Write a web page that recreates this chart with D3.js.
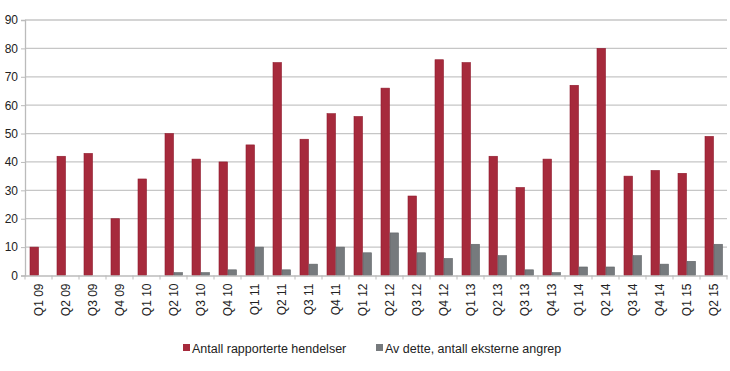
<!DOCTYPE html>
<html>
<head>
<meta charset="utf-8">
<script src="https://cdn.jsdelivr.net/npm/d3@7"></script>
<style>
  body { margin: 0; background: #fff; }
  text { font-family: "Liberation Sans", Arial, sans-serif; fill: #222; }
</style>
</head>
<body>
<div id="chart"></div>
<script>
const quarters = ['Q1 09','Q2 09','Q3 09','Q4 09','Q1 10','Q2 10','Q3 10','Q4 10',
  'Q1 11','Q2 11','Q3 11','Q4 11','Q1 12','Q2 12','Q3 12','Q4 12',
  'Q1 13','Q2 13','Q3 13','Q4 13','Q1 14','Q2 14','Q3 14','Q4 14','Q1 15','Q2 15']
const reported = [10,42,43,20,34,50,41,40,46,75,48,57,56,66,28,76,75,42,31,41,67,80,35,37,36,49]
const external = [0,0,0,0,0,1,1,2,10,2,4,10,8,15,8,6,11,7,2,1,3,3,7,4,5,11]
const seriesNames = ['Antall rapporterte hendelser', 'Av dette, antall eksterne angrep']
const yTicks = [0,10,20,30,40,50,60,70,80,90]

const width = 730, height = 371
const margin = {top: 20, right: 3, bottom: 95, left: 25}

const svg = d3.select('#chart').append('svg')
  .attr('width', width).attr('height', height)

const x = d3.scaleBand()
  .domain(quarters)
  .range([margin.left, width - margin.right])

const y = d3.scaleLinear()
  .domain([0, 90])
  .range([height - margin.bottom - 0.5, margin.top])

// gridlines
svg.append('g').selectAll('line')
  .data(yTicks.slice(1))
  .enter().append('line')
  .attr('x1', margin.left).attr('x2', width - margin.right)
  .attr('y1', d => y(d)).attr('y2', d => y(d))
  .attr('stroke', '#c6c6c6').attr('stroke-width', 1.3)

// y axis
const yAxis = svg.append('g')
  .attr('transform', `translate(${margin.left},0)`)
  .call(d3.axisLeft(y).tickValues(yTicks).tickSize(4).tickPadding(3))
yAxis.select('.domain').attr('stroke', '#bbb').attr('stroke-width', 1.3)
yAxis.selectAll('.tick line').attr('stroke', '#bbb')
yAxis.selectAll('text').style('font-size', '12px').attr('fill', '#222')

// bars
const sub = d3.scaleBand()
  .domain([0, 1])
  .range([0, x.bandwidth()])
  .paddingOuter(0.5)
  .paddingInner(0)

const colors = ['#a62a3c', '#767a7d']
const strokes = ['#8f1a2c', '#5f6366']

;[reported, external].forEach((vals, s) => {
  svg.append('g').selectAll('rect')
    .data(vals)
    .enter().append('rect')
    .attr('x', (d, i) => x(quarters[i]) + sub(s) + 0.5)
    .attr('y', d => y(d))
    .attr('width', sub.bandwidth() - 0.5)
    .attr('height', d => y(0) - y(d))
    .attr('fill', colors[s])
    .attr('stroke', d => d > 0 ? strokes[s] : 'none')
    .attr('stroke-width', 0.6)
})

// x axis
const xAxis = svg.append('g')
  .attr('transform', `translate(0,${y(0)})`)
  .call(d3.axisBottom(x).tickSize(0))
xAxis.select('.domain').attr('stroke', '#bbb').attr('stroke-width', 1.3)
xAxis.selectAll('text')
  .style('font-size', '12px')
  .attr('fill', '#222')
  .attr('text-anchor', 'end')
  .attr('transform', 'rotate(-90)')
  .attr('x', -8)
  .attr('y', 0)
  .attr('dy', '0.35em')

// tick marks between categories
svg.append('g').selectAll('line')
  .data(quarters.concat(['end']))
  .enter().append('line')
  .attr('x1', (d, i) => margin.left + i * x.step())
  .attr('x2', (d, i) => margin.left + i * x.step())
  .attr('y1', y(0)).attr('y2', y(0) + 4)
  .attr('stroke', '#bbb')

// legend
const legendX = [183, 376]
const legend = svg.append('g')
seriesNames.forEach((name, i) => {
  legend.append('rect')
    .attr('x', legendX[i]).attr('y', 344)
    .attr('width', 7).attr('height', 7)
    .attr('fill', colors[i])
  legend.append('text')
    .attr('x', legendX[i] + 9).attr('y', 352.5)
    .style('font-size', '12.5px')
    .text(name)
})
</script>
</body>
</html>
